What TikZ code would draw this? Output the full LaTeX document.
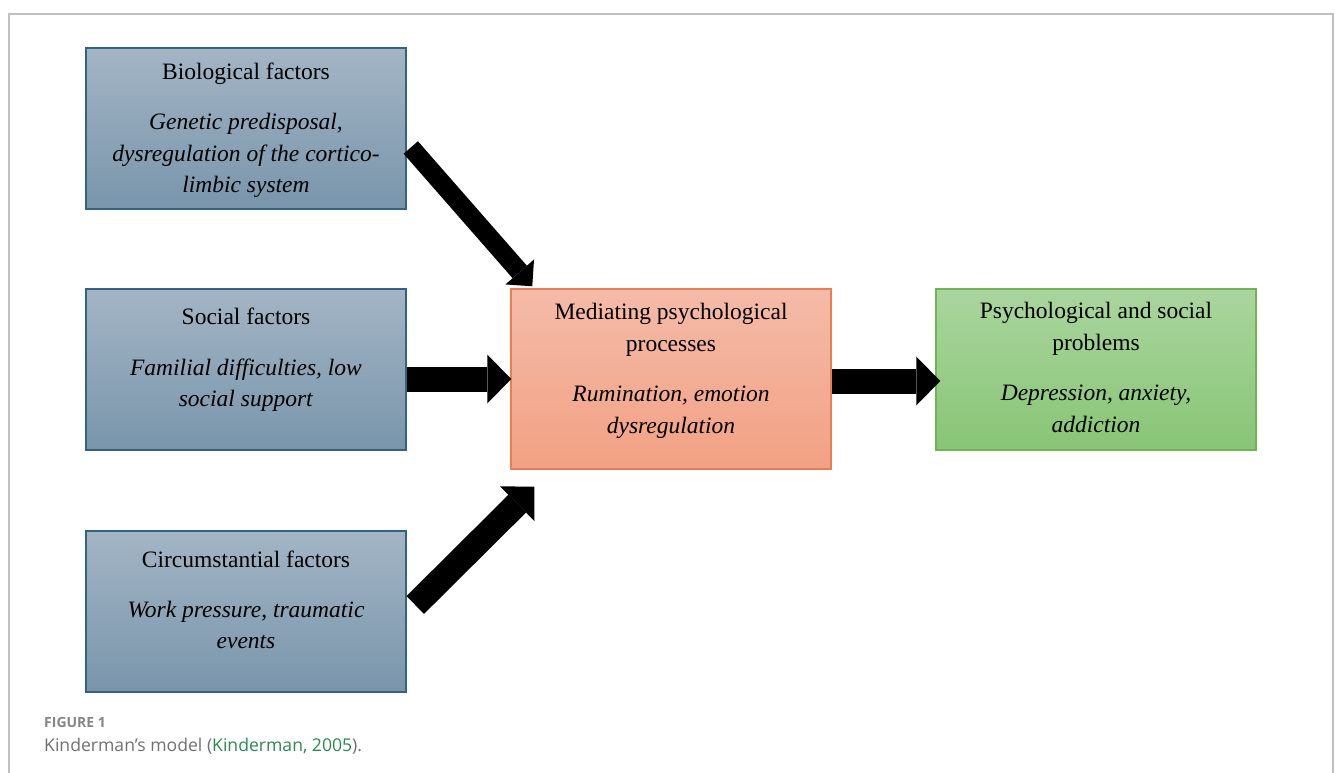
\documentclass[tikz,border=0pt]{standalone}
\usepackage{fontspec}
\setmainfont{Liberation Serif}
\newfontfamily\capfont{Open Sans}
\usetikzlibrary{positioning,arrows.meta}
\definecolor{FactorTop}{RGB}{163,181,197}
\definecolor{FactorBot}{RGB}{121,149,171}
\definecolor{FactorLine}{RGB}{50,98,132}
\definecolor{MedTop}{RGB}{244,187,168}
\definecolor{MedBot}{RGB}{242,161,131}
\definecolor{MedLine}{RGB}{237,125,80}
\definecolor{ProbTop}{RGB}{170,213,158}
\definecolor{ProbBot}{RGB}{136,197,117}
\definecolor{ProbLine}{RGB}{112,181,80}
\definecolor{FrameGray}{RGB}{192,192,192}
\definecolor{CapGray}{RGB}{112,112,112}
\definecolor{CapGreen}{RGB}{40,138,80}
\tikzset{
    box/.style={draw, rectangle, line width=1.5pt, minimum width=320pt,
        minimum height=161pt, inner sep=0pt},
    factor/.style={box, draw=FactorLine, top color=FactorTop, bottom color=FactorBot},
    mediator/.style={box, draw=MedLine, top color=MedTop, bottom color=MedBot,
        minimum height=180pt},
    outcome/.style={box, draw=ProbLine, top color=ProbTop, bottom color=ProbBot},
    boxtext/.style={align=center, inner sep=0pt, font=\fontsize{23.5}{31.5}\selectfont},
    fat/.style={line width=25pt, -{Triangle[length=24pt, width=49pt, line width=0pt]}},
    slimfat/.style={line width=19pt, -{Triangle[length=19pt, width=38pt, line width=0pt]}}
}

\begin{document}
\begin{tikzpicture}[x=1pt, y=-1pt]
\useasboundingbox (0,0) rectangle (1335,773);
\draw[FrameGray, line width=2pt] (9,773) -- (9,14) -- (1333,14) -- (1333,773);

% Boxes
\node[factor] (bio) at (246,128.5) {};
\node[factor] (social) at (246,369.5) {};
\node[factor] (circ) at (246,611.5) {};
\node[mediator] (med) at (671,379) {};
\node[outcome] (prob) at (1096,369.5) {};

% Texts
\node[boxtext, below=16pt of bio.north] (biotext) {Biological factors\\[18.5pt]
    \textit{Genetic predisposal,}\\ \textit{dysregulation of the cortico-}\\ \textit{limbic system}};
\node[boxtext, below=20pt of social.north] (socialtext) {Social factors\\[18.5pt]
    \textit{Familial difficulties, low}\\ \textit{social support}};
\node[boxtext, below=20pt of circ.north] (circtext) {Circumstantial factors\\[18.5pt]
    \textit{Work pressure, traumatic}\\ \textit{events}};
\node[boxtext, below=15pt of med.north] (medtext) {Mediating psychological\\ processes\\[19pt]
    \textit{Rumination, emotion}\\ \textit{dysregulation}};
\node[boxtext, below=14pt of prob.north] (probtext) {Psychological and social\\ problems\\[19pt]
    \textit{Depression, anxiety,}\\ \textit{addiction}};

% Arrows
\draw[slimfat] ([xshift=4pt, yshift=-19pt]bio.east) -- ([xshift=22pt, yshift=2pt]med.north west);
\draw[fat] (social.east |- med.west) -- ([xshift=1pt]med.west);
\draw[fat] ([xshift=8.5pt, yshift=6.5pt]circ.east) -- ([xshift=24pt, yshift=-17pt]med.south west);
\draw[fat] ([yshift=-2pt]med.east) -- ([xshift=5pt, yshift=-2pt]med.east -| prob.west);

% Caption
\node[anchor=base west, inner sep=0pt, font=\capfont\bfseries\fontsize{14}{16}\selectfont,
    text=CapGray!85] (figlabel) at (44,727) {FIGURE 1};
\node[anchor=base west, inner sep=0pt, font=\capfont\fontsize{17.6}{20}\selectfont,
    text=CapGray] (caption) at (44,751) {Kinderman’s model (\textcolor{CapGreen}{Kinderman, 2005}).};
\end{tikzpicture}
\end{document}
